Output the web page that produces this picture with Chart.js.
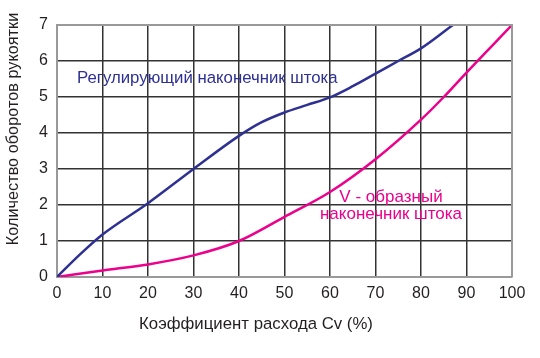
<!DOCTYPE html>
<html>
<head>
<meta charset="utf-8">
<script src="https://cdn.jsdelivr.net/npm/chart.js@4"></script>
<style>
html,body{margin:0;padding:0;background:#fff;}
#wrap{width:540px;height:358px;position:relative;}
</style>
</head>
<body>
<div id="wrap"><canvas id="c" width="540" height="358"></canvas></div>
<script>
// Data
const xTicks = [0, 10, 20, 30, 40, 50, 60, 70, 80, 90, 100];
const yTicks = [0, 1, 2, 3, 4, 5, 6, 7];

const regulatingX = [0, 5, 10, 20, 30, 40, 45, 50, 55, 60, 65, 70, 75, 80, 87];
const regulatingY = [0, 0.62, 1.18, 2.05, 3.0, 3.92, 4.3, 4.57, 4.78, 4.99, 5.3, 5.65, 6.0, 6.35, 7.0];

const vShapedX = [0, 10, 20, 30, 40, 50, 60, 70, 80, 85, 90, 100];
const vShapedY = [0, 0.18, 0.35, 0.6, 1.0, 1.67, 2.36, 3.27, 4.37, 5.0, 5.68, 7.0];

const xTitle = 'Коэффициент расхода Cv (%)';
const yTitle = 'Количество оборотов рукоятки';
const labelRegulating = ['Регулирующий наконечник штока'];
const labelVShaped = ['V - образный', 'наконечник штока'];

const BLUE = '#2e3192';
const PINK = '#ec008c';
const FONT = '"Liberation Sans", Arial, sans-serif';

function pts(xs, ys) { return xs.map((x, i) => ({x: x, y: ys[i]})); }

const textPlugin = {
  id: 'texts',
  afterDraw(chart) {
    const ctx = chart.ctx;
    ctx.save();
    ctx.textBaseline = 'middle';
    ctx.font = '16.8px ' + FONT;
    ctx.textAlign = 'left';
    ctx.fillStyle = BLUE;
    ctx.fillText(labelRegulating[0], 77, 78);
    ctx.font = '17px ' + FONT;
    ctx.fillStyle = PINK;
    ctx.textAlign = 'center';
    ctx.fillText(labelVShaped[0], 391, 197);
    ctx.fillText(labelVShaped[1], 391, 214);
    // axis titles
    ctx.fillStyle = '#231f20';
    ctx.font = '16.8px ' + FONT;
    ctx.fillText(xTitle, 256, 324);
    ctx.font = '16.3px ' + FONT;
    ctx.translate(14, 129);
    ctx.rotate(-Math.PI / 2);
    ctx.fillText(yTitle, 0, 0);
    ctx.restore();
  }
};

new Chart(document.getElementById('c'), {
  type: 'line',
  data: {
    datasets: [
      {
        label: 'Регулирующий наконечник штока',
        data: pts(regulatingX, regulatingY),
        borderColor: BLUE,
        borderWidth: 2.5,
        pointRadius: 0,
        cubicInterpolationMode: 'monotone',
        fill: false
      },
      {
        label: 'V - образный наконечник штока',
        data: pts(vShapedX, vShapedY),
        borderColor: PINK,
        borderWidth: 2.5,
        pointRadius: 0,
        cubicInterpolationMode: 'monotone',
        fill: false
      }
    ]
  },
  options: {
    responsive: false,
    animation: false,
    devicePixelRatio: 1,
    layout: { padding: { left: 0, right: 28, top: 25, bottom: 0 } },
    plugins: { legend: { display: false }, tooltip: { enabled: false } },
    scales: {
      x: {
        type: 'linear',
        min: 0, max: 100,
        afterBuildTicks: s => { s.ticks = xTicks.map(v => ({value: v})); },
        afterFit: s => { s.height = 81; },
        grid: { color: '#333333', lineWidth: 1.5, drawTicks: false },
        border: { color: '#999999', width: 2 },
        ticks: { color: '#231f20', font: { family: FONT, size: 16 }, padding: 7, maxRotation: 0 },
        title: { display: false }
      },
      y: {
        type: 'linear',
        min: 0, max: 7,
        afterBuildTicks: s => { s.ticks = yTicks.map(v => ({value: v})); },
        afterFit: s => { s.width = 57; },
        grid: { color: '#333333', lineWidth: 1.5, drawTicks: false },
        border: { color: '#999999', width: 2 },
        ticks: { color: '#231f20', font: { family: FONT, size: 16 }, padding: 9 },
        title: { display: false }
      }
    }
  },
  plugins: [textPlugin, {
    id: 'frame',
    afterDatasetsDraw(chart) {
      const a = chart.chartArea, ctx = chart.ctx;
      ctx.save();
      ctx.strokeStyle = '#999999';
      ctx.lineWidth = 2;
      ctx.beginPath();
      ctx.moveTo(a.left, a.top); ctx.lineTo(a.right, a.top); ctx.lineTo(a.right, a.bottom);
      ctx.stroke();
      ctx.restore();
    }
  }]
});
</script>
</body>
</html>
